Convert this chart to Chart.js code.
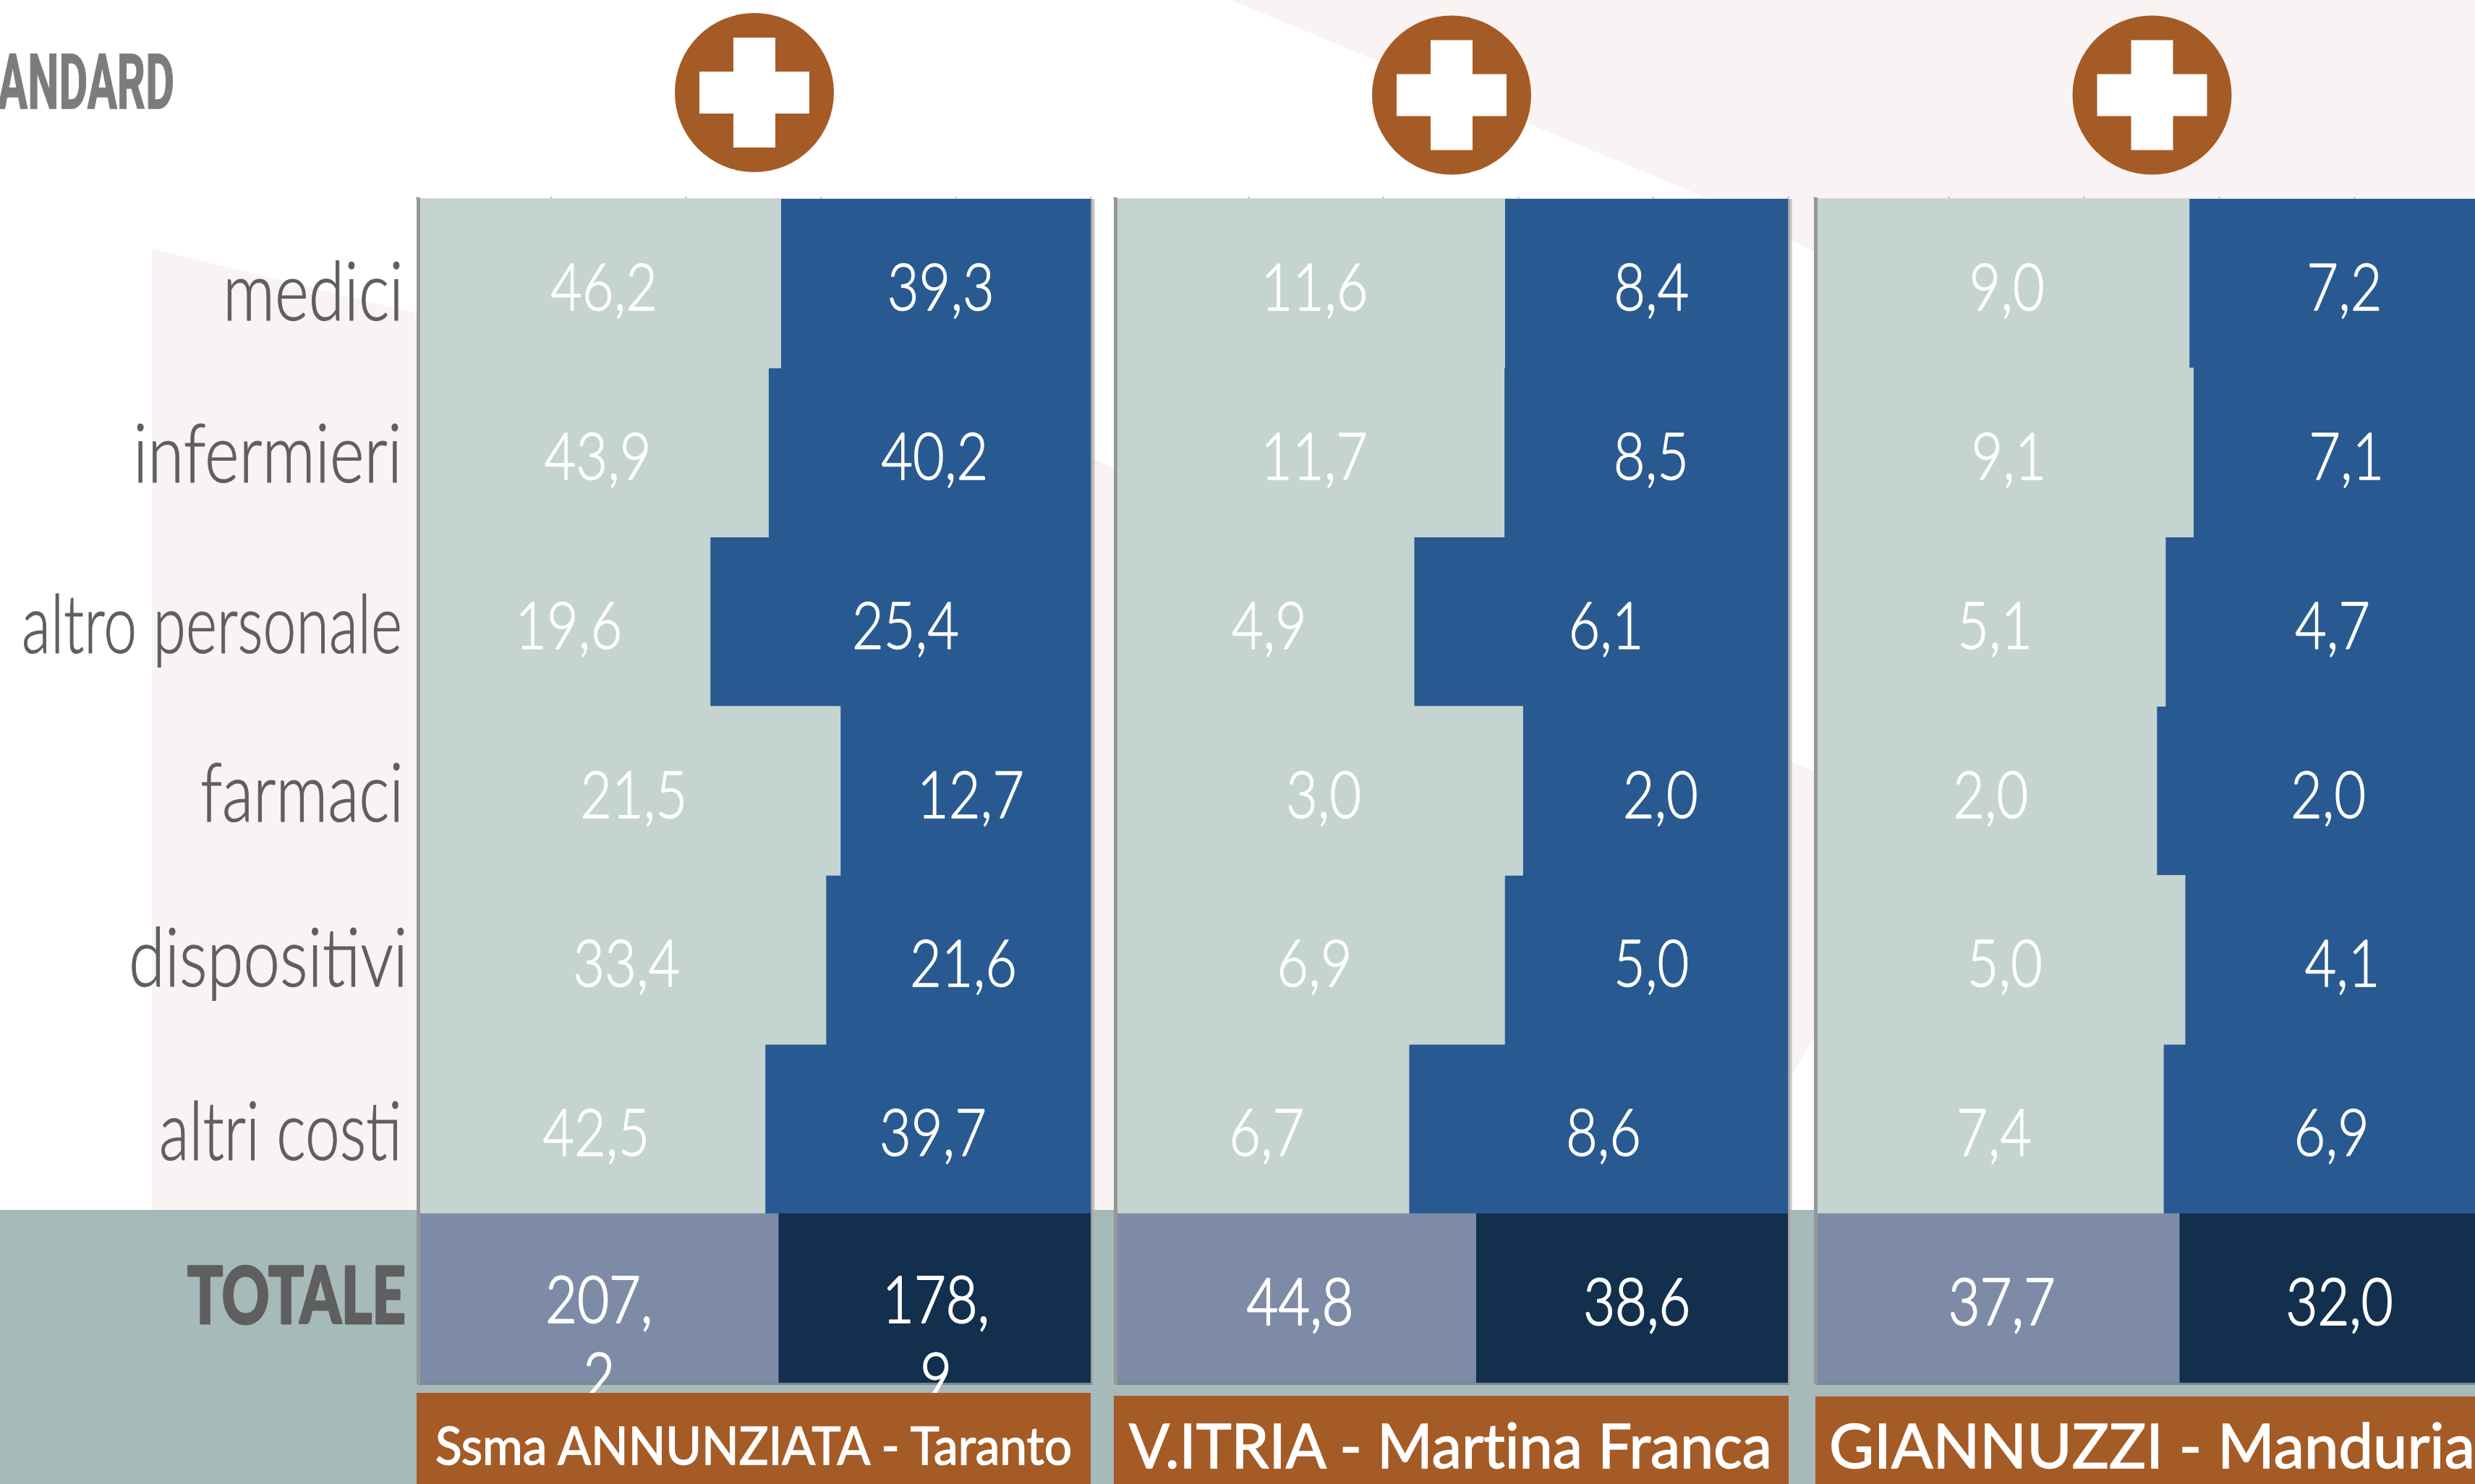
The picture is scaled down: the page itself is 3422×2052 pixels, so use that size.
<!DOCTYPE html>
<html lang="it">
<head>
<meta charset="utf-8">
<title>Costi per ospedale</title>
<script src="https://cdn.jsdelivr.net/npm/chart.js@4/dist/chart.umd.min.js"></script>
<style>
html,body{margin:0;padding:0;background:#fff;width:3422px;height:2052px;overflow:hidden;position:relative}
canvas{position:absolute;top:0;display:block}
svg{position:absolute;left:0;top:0}
svg text{font-variant-ligatures:none}
#bg{z-index:0}
#fg{z-index:5}
</style>
</head>
<body>
<svg id="bg" width="3422" height="2052" xmlns="http://www.w3.org/2000/svg"></svg>
<canvas id="c0" style="left:0;z-index:2" width="1530" height="2052"></canvas>
<canvas id="c1" style="left:1530px;z-index:2" width="960" height="2052"></canvas>
<canvas id="c2" style="left:2498px;z-index:2" width="944" height="2052"></canvas>
<svg id="fg" width="3422" height="2052" xmlns="http://www.w3.org/2000/svg"></svg>
<script>
const categories = ['medici','infermieri','altro personale','farmaci','dispositivi','altri costi','TOTALE'];
const hospitals = ['Ssma ANNUNZIATA - Taranto','V.ITRIA - Martina Franca','GIANNUZZI - Manduria'];
const annunziataLeft  = [46.2,43.9,19.6,21.5,33.4,42.5,207.2];
const annunziataRight = [39.3,40.2,25.4,12.7,21.6,39.7,178.9];
const vitriaLeft      = [11.6,11.7,4.9,3.04,6.9,6.7,44.8];
const vitriaRight     = [8.4,8.5,6.1,1.97,5.0,8.6,38.6];
const giannuzziLeft   = [9.0,9.1,5.1,2.03,5.0,7.4,37.7];
const giannuzziRight  = [7.2,7.1,4.7,1.97,4.1,6.9,32.0];
const headerText = 'ANDARD';

const C = {light:'#c5d4d1', blue:'#285a91', totLight:'#7d8ba6', totDark:'#122f4e',
           brown:'#a55b26', band:'#a6baba', pink:'#f9f3f3', grey:'#5f5f5f', header:'#7b7d7b'};
const THIN = '"Lato"';
const numFmt = v => v.toLocaleString('it-IT',{minimumFractionDigits:1,maximumFractionDigits:1});

/* layout of the panels on the page */
const panels = [
  {canvas:'c0', canvasLeft:0,    canvasW:1530, plotL:576,  plotR:1508, left:annunziataLeft, right:annunziataRight, wrapTotal:true, axisLabels:true},
  {canvas:'c1', canvasLeft:1530, canvasW:960,  plotL:1540, plotR:2472, left:vitriaLeft,     right:vitriaRight},
  {canvas:'c2', canvasLeft:2498, canvasW:944,  plotL:2508, plotR:3442, left:giannuzziLeft,  right:giannuzziRight}
];
const labelRight = [558,556,556,558,564,556,561];
const labelBase  = [51,41,43,42,37,43,35];
const labelWidth = [250,372,526,281,386,336,302];

const frame = {
  id:'frame',
  afterDatasetsDraw(chart){
    const {ctx,chartArea:a} = chart;
    ctx.save();
    ctx.fillStyle='rgba(70,80,85,.45)';
    ctx.fillRect(a.left+2,a.bottom,a.right-a.left,3);
    const g = ctx.createLinearGradient(a.right,0,a.right+6,0);
    g.addColorStop(0,'#8f9393'); g.addColorStop(1,'rgba(190,190,190,.5)');
    ctx.fillStyle=g; ctx.fillRect(a.right,a.top,6,a.bottom-a.top+2);
    ctx.fillStyle='#959897'; ctx.fillRect(a.left,a.top-2,5,a.bottom-a.top+4);
    ctx.restore();
  }
};

const valueText = {
  id:'valueText',
  afterDraw(chart,args,opts){
    const {ctx} = chart;
    ctx.save();
    ctx.fillStyle='#fff';
    ctx.strokeStyle='#fff';
    ctx.textAlign='center';
    ctx.textBaseline='alphabetic';
    ctx.lineJoin='round';
    chart.data.datasets.forEach((ds,di)=>{
      chart.getDatasetMeta(di).data.forEach((bar,i)=>{
        const total = i===6;
        const p = bar.getProps(['x','y','base'],true);
        const wrap = total&&opts.wrap;
        const cx = (p.x+p.base)/2+(wrap?2:7);
        const yb = p.y+(wrap?34:37);
        ctx.font='300 90px '+THIN;
        ctx.lineWidth=total?2.2:1.4;
        const s = numFmt(ds.rawValues[i]);
        const lines = wrap?[s.slice(0,s.indexOf(',')+1),s.slice(s.indexOf(',')+1)]:[s];
        lines.forEach((t,k)=>{
          ctx.save();
          ctx.translate(cx,yb+k*106);
          ctx.scale(0.84,1);
          ctx.fillText(t,0,0);
          ctx.strokeText(t,0,0);
          ctx.restore();
        });
      });
    });
    if(opts.axisLabels){
      const y = chart.scales.y;
      y.getLabels().forEach((lab,i)=>{
        const cy = y.getPixelForValue(i);
        const total = i===6;
        ctx.save();
        ctx.textAlign='right';
        ctx.fillStyle=C.grey;
        ctx.strokeStyle=C.grey;
        ctx.translate(labelRight[i],cy+labelBase[i]);
        ctx.font=(total?'900 108px ':'300 112px ')+THIN;
        ctx.scale(labelWidth[i]/ctx.measureText(lab).width,1);
        ctx.fillText(lab,0,0);
        ctx.lineWidth=total?3:1.2;
        ctx.strokeText(lab,0,0);
        ctx.restore();
      });
    }
    ctx.restore();
  }
};

function build(p){
  const share = (a,b)=>a.map((v,i)=>v/(v+b[i])*100);
  const cv = document.getElementById(p.canvas);
  return new Chart(cv,{
    type:'bar',
    data:{labels:categories,datasets:[
      {data:share(p.left,p.right), rawValues:p.left, backgroundColor:categories.map((c,i)=>i===6?C.totLight:C.light), borderWidth:0, barPercentage:1, categoryPercentage:1},
      {data:share(p.right,p.left), rawValues:p.right, backgroundColor:categories.map((c,i)=>i===6?C.totDark:C.blue), borderWidth:0, barPercentage:1, categoryPercentage:1}
    ]},
    options:{
      indexAxis:'y',responsive:false,animation:false,
      layout:{padding:{left:p.plotL-p.canvasLeft,right:p.canvasLeft+p.canvasW-p.plotR,top:272,bottom:140}},
      plugins:{legend:{display:false},tooltip:{enabled:false},title:{display:false},
        valueText:{wrap:!!p.wrapTotal,axisLabels:!!p.axisLabels}},
      scales:{
        x:{position:'top',stacked:true,min:0,max:100,
           ticks:{display:false,stepSize:20},
           grid:{drawOnChartArea:false,tickLength:3,color:'#b4b4b4',tickWidth:2},
           border:{display:true,color:'#d6d8d7',width:2}},
        y:{stacked:true,display:false}
      }
    },
    plugins:[frame,valueText]
  });
}

/* decorative background and foreground */
const NS='http://www.w3.org/2000/svg';
function el(parent,name,attrs,text){
  const e=document.createElementNS(NS,name);
  Object.entries(attrs).forEach(([k,v])=>e.setAttribute(k,v));
  if(text!==undefined)e.textContent=text;
  parent.appendChild(e);return e;
}
const bg=document.getElementById('bg'), fg=document.getElementById('fg');
el(bg,'polygon',{points:'210,344 576,433 1513,635 2508,1066 2508,1434 2474,1492 1540,1680 210,1680',fill:C.pink});
el(bg,'polygon',{points:'1702,0 3422,0 3422,400 2508,348 2358,273',fill:C.pink});
el(bg,'rect',{x:0,y:1673,width:3422,height:379,fill:C.band});
[[1043,128],[2007,131.5],[2975.5,131.5]].forEach(([cx,cy])=>{
  el(bg,'circle',{cx,cy,r:110,fill:C.brown});
  el(bg,'rect',{x:cx-76,y:cy-29,width:152,height:58,fill:'#fff'});
  el(bg,'rect',{x:cx-29,y:cy-76,width:58,height:152,fill:'#fff'});
});
el(bg,'text',{x:-3,y:150,'font-family':'Liberation Sans Narrow, Roboto','font-weight':700,'font-size':106,fill:C.header,
  stroke:C.header,'stroke-width':1.5,textLength:244,lengthAdjust:'spacingAndGlyphs'},headerText);
const boxes=[
  {x:576,y:1926,w:932,tx:602,tw:880,base:2025,size:72},
  {x:1540,y:1930,w:933,tx:1561,tw:889,base:2030,size:86},
  {x:2510,y:1931,w:912,tx:2529,tw:893,base:2030,size:86}
];
boxes.forEach((b,i)=>{
  el(fg,'rect',{x:b.x,y:b.y,width:b.w,height:2052-b.y,fill:C.brown});
  el(fg,'text',{x:b.tx,y:b.base,'font-family':'Liberation Sans Narrow, Lato','font-weight':400,'font-size':b.size,fill:'#fff',
    stroke:'#fff','stroke-width':1.5,textLength:b.tw,lengthAdjust:'spacingAndGlyphs'},hospitals[i]);
});

panels.forEach(build);
</script>
</body>
</html>
